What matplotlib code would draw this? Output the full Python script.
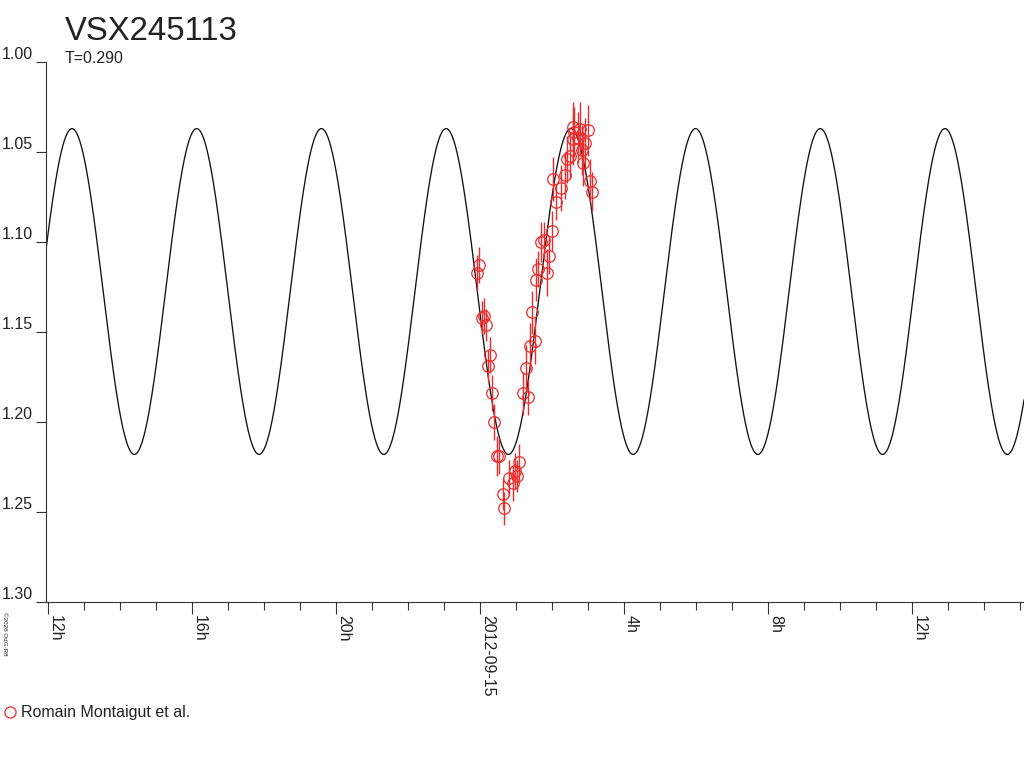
import numpy as np
import matplotlib
matplotlib.use("Agg")
import matplotlib.pyplot as plt
from matplotlib.ticker import MultipleLocator
from matplotlib.lines import Line2D

plt.rcParams['font.family'] = ['Liberation Sans', 'DejaVu Sans']

# observations: hours since 2012-09-14 00:00 UT, magnitude, error
obs_hours = [23.92, 23.97, 24.06, 24.11, 24.17, 24.22, 24.28, 24.33, 24.39, 24.47,
             24.53, 24.64, 24.67, 24.81, 24.92, 24.97, 25.03, 25.08, 25.19, 25.28,
             25.33, 25.39, 25.44, 25.53, 25.56, 25.61, 25.69, 25.78, 25.86, 25.92,
             26.00, 26.03, 26.11, 26.25, 26.36, 26.42, 26.50, 26.58, 26.58, 26.61,
             26.72, 26.78, 26.83, 26.86, 26.92, 27.00, 27.06, 27.11]
obs_mag = [1.117, 1.113, 1.142, 1.141, 1.146, 1.169, 1.163, 1.184, 1.200, 1.219,
           1.219, 1.240, 1.248, 1.231, 1.234, 1.227, 1.230, 1.222, 1.184, 1.170,
           1.186, 1.158, 1.139, 1.155, 1.121, 1.115, 1.100, 1.099, 1.117, 1.108,
           1.094, 1.065, 1.078, 1.070, 1.063, 1.054, 1.052, 1.043, 1.036, 1.039,
           1.042, 1.037, 1.049, 1.056, 1.045, 1.038, 1.066, 1.072]
obs_err = [0.010, 0.010, 0.009, 0.010, 0.009, 0.009, 0.010, 0.010, 0.010, 0.011,
           0.010, 0.009, 0.009, 0.010, 0.010, 0.010, 0.009, 0.010, 0.012, 0.013,
           0.010, 0.013, 0.012, 0.013, 0.012, 0.010, 0.011, 0.010, 0.013, 0.010,
           0.011, 0.012, 0.010, 0.013, 0.013, 0.013, 0.013, 0.014, 0.014, 0.014,
           0.014, 0.015, 0.014, 0.013, 0.014, 0.014, 0.012, 0.011]

# fitted light curve parameters
fit_mean = 1.1275
fit_amp = 0.0905
fit_period_h = 3.464
fit_peak_h = 12.667

major_hours = [12, 16, 20, 24, 28, 32, 36]
major_labels = ['12h', '16h', '20h', '2012-09-15', '4h', '8h', '12h']
y_ticks = [1.00, 1.05, 1.10, 1.15, 1.20, 1.25, 1.30]

red = '#ee2a2a'
ink = '#222222'

fig = plt.figure(figsize=(10.24, 7.68), dpi=100)
ax = fig.add_axes([45.5 / 1024, 1 - 602 / 768, 978.5 / 1024, 540 / 768])

x0, x1 = 11.931, 39.111
t = np.linspace(x0, x1, 3000)
curve = fit_mean - fit_amp * np.cos(2 * np.pi * (t - fit_peak_h) / fit_period_h)
ax.plot(t, curve, color='#111111', lw=0.95, zorder=2)

ax.errorbar(obs_hours, obs_mag, yerr=obs_err, fmt='none', ecolor=red,
            elinewidth=1.0, capsize=0, zorder=3)
ax.plot(obs_hours, obs_mag, 'o', ms=8.3, mfc='none', mec=red, mew=0.9,
        zorder=4)

ax.set_xlim(x0, x1)
ax.set_ylim(1.30, 1.00)

for s in ['top', 'right']:
    ax.spines[s].set_visible(False)
for s in ['left', 'bottom']:
    ax.spines[s].set_linewidth(0.8)
    ax.spines[s].set_color('#333333')

ax.set_yticks(y_ticks)
ax.set_yticklabels(['%.2f' % v for v in y_ticks])
ax.tick_params(axis='y', length=7.2, width=0.8, color='#333333',
               labelsize=11.5, labelcolor=ink, pad=2)
for lbl in ax.get_yticklabels():
    lbl.set_va('bottom')

ax.set_xticks(major_hours)
ax.set_xticklabels(major_labels, rotation=-90)
ax.xaxis.set_minor_locator(MultipleLocator(1))
ax.tick_params(axis='x', which='major', length=8.6, width=0.8,
               color='#333333', labelsize=11.5, labelcolor=ink, pad=1)
ax.tick_params(axis='x', which='minor', length=5.8, width=0.8,
               color='#333333')
for lbl in ax.get_xticklabels():
    lbl.set_ha('left')

fig.text(65 / 1024, 1 - 40 / 768, 'VSX245113', fontsize=23.7, color=ink,
         va='baseline', ha='left')
fig.text(65 / 1024, 1 - 63 / 768, 'T=0.290', fontsize=11.5, color=ink,
         va='baseline', ha='left')
fig.text(2 / 1024, 1 - 612 / 768, '\u00a92026 OdG-R8', fontsize=4.5,
         color=ink, rotation=-90, va='top', ha='left')

handle = Line2D([], [], marker='o', ls='none', ms=8, mfc='none', mec=red,
                mew=0.9)
fig.legend([handle], ['Romain Montaigut et al.'], loc='center left',
           bbox_to_anchor=(4 / 1024, 1 - 713 / 768), frameon=False,
           fontsize=11.5, handlelength=0.6, handletextpad=0.35,
           borderpad=0, borderaxespad=0.1, labelcolor=ink)

fig.savefig('out.png', dpi=100)
